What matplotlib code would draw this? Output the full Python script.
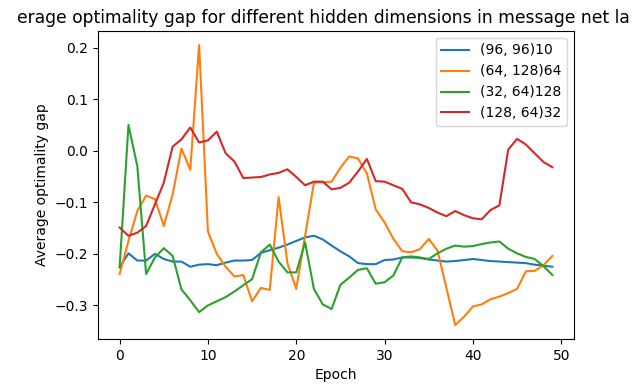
import matplotlib
matplotlib.use("Agg")
import matplotlib.pyplot as plt
import numpy as np

epochs = np.arange(50)

labels = ["(96, 96)10", "(64, 128)64", "(32, 64)128", "(128, 64)32"]

title_text = "erage optimality gap for different hidden dimensions in message net la"

gap_96_96_10 = [
    -0.226, -0.199, -0.213, -0.213, -0.200, -0.210, -0.215, -0.215, -0.225, -0.221,
    -0.220, -0.222, -0.217, -0.213, -0.213, -0.212, -0.198, -0.193, -0.188, -0.182,
    -0.175, -0.168, -0.165, -0.172, -0.184, -0.195, -0.205, -0.218, -0.220, -0.220,
    -0.212, -0.211, -0.207, -0.207, -0.208, -0.211, -0.213, -0.215, -0.214, -0.212,
    -0.210, -0.212, -0.214, -0.215, -0.216, -0.217, -0.218, -0.221, -0.223, -0.225,
]

gap_64_128_64 = [
    -0.239, -0.175, -0.117, -0.087, -0.094, -0.146, -0.085, 0.004, -0.037, 0.205,
    -0.157, -0.200, -0.225, -0.244, -0.241, -0.292, -0.266, -0.270, -0.090, -0.218,
    -0.268, -0.165, -0.062, -0.061, -0.060, -0.033, -0.011, -0.015, -0.044, -0.114,
    -0.139, -0.171, -0.195, -0.197, -0.191, -0.171, -0.194, -0.266, -0.338, -0.322,
    -0.302, -0.298, -0.288, -0.283, -0.276, -0.268, -0.234, -0.233, -0.222, -0.204,
]

gap_32_64_128 = [
    -0.226, 0.050, -0.030, -0.239, -0.207, -0.189, -0.204, -0.269, -0.290, -0.313,
    -0.300, -0.292, -0.284, -0.273, -0.261, -0.249, -0.197, -0.182, -0.215, -0.236,
    -0.236, -0.178, -0.268, -0.298, -0.307, -0.260, -0.246, -0.231, -0.228, -0.258,
    -0.255, -0.242, -0.207, -0.205, -0.207, -0.210, -0.199, -0.190, -0.184, -0.186,
    -0.185, -0.181, -0.178, -0.176, -0.190, -0.199, -0.206, -0.210, -0.224, -0.241,
]

gap_128_64_32 = [
    -0.149, -0.165, -0.159, -0.146, -0.104, -0.062, 0.008, 0.022, 0.045, 0.016,
    0.020, 0.037, -0.005, -0.021, -0.053, -0.052, -0.051, -0.046, -0.043, -0.036,
    -0.051, -0.067, -0.060, -0.060, -0.075, -0.072, -0.062, -0.040, -0.016, -0.059,
    -0.060, -0.067, -0.074, -0.100, -0.104, -0.111, -0.120, -0.127, -0.117, -0.125,
    -0.131, -0.133, -0.115, -0.106, 0.002, 0.023, 0.012, -0.005, -0.022, -0.032,
]

series = [gap_96_96_10, gap_64_128_64, gap_32_64_128, gap_128_64_32]

fig = plt.figure(figsize=(6.38, 3.84), dpi=100)
ax = fig.add_axes([98 / 638, 1 - 339 / 384, (574 - 98) / 638, (339 - 31) / 384])

for values, label in zip(series, labels):
    ax.plot(epochs, values, label=label)

ax.set_xlabel("Epoch")
ax.set_ylabel("Average optimality gap")
ax.set_title(title_text, loc="left", x=(17 - 98) / 476, fontsize=12.3)
ax.legend(loc="upper right")

fig.savefig("out.png", dpi=100)
